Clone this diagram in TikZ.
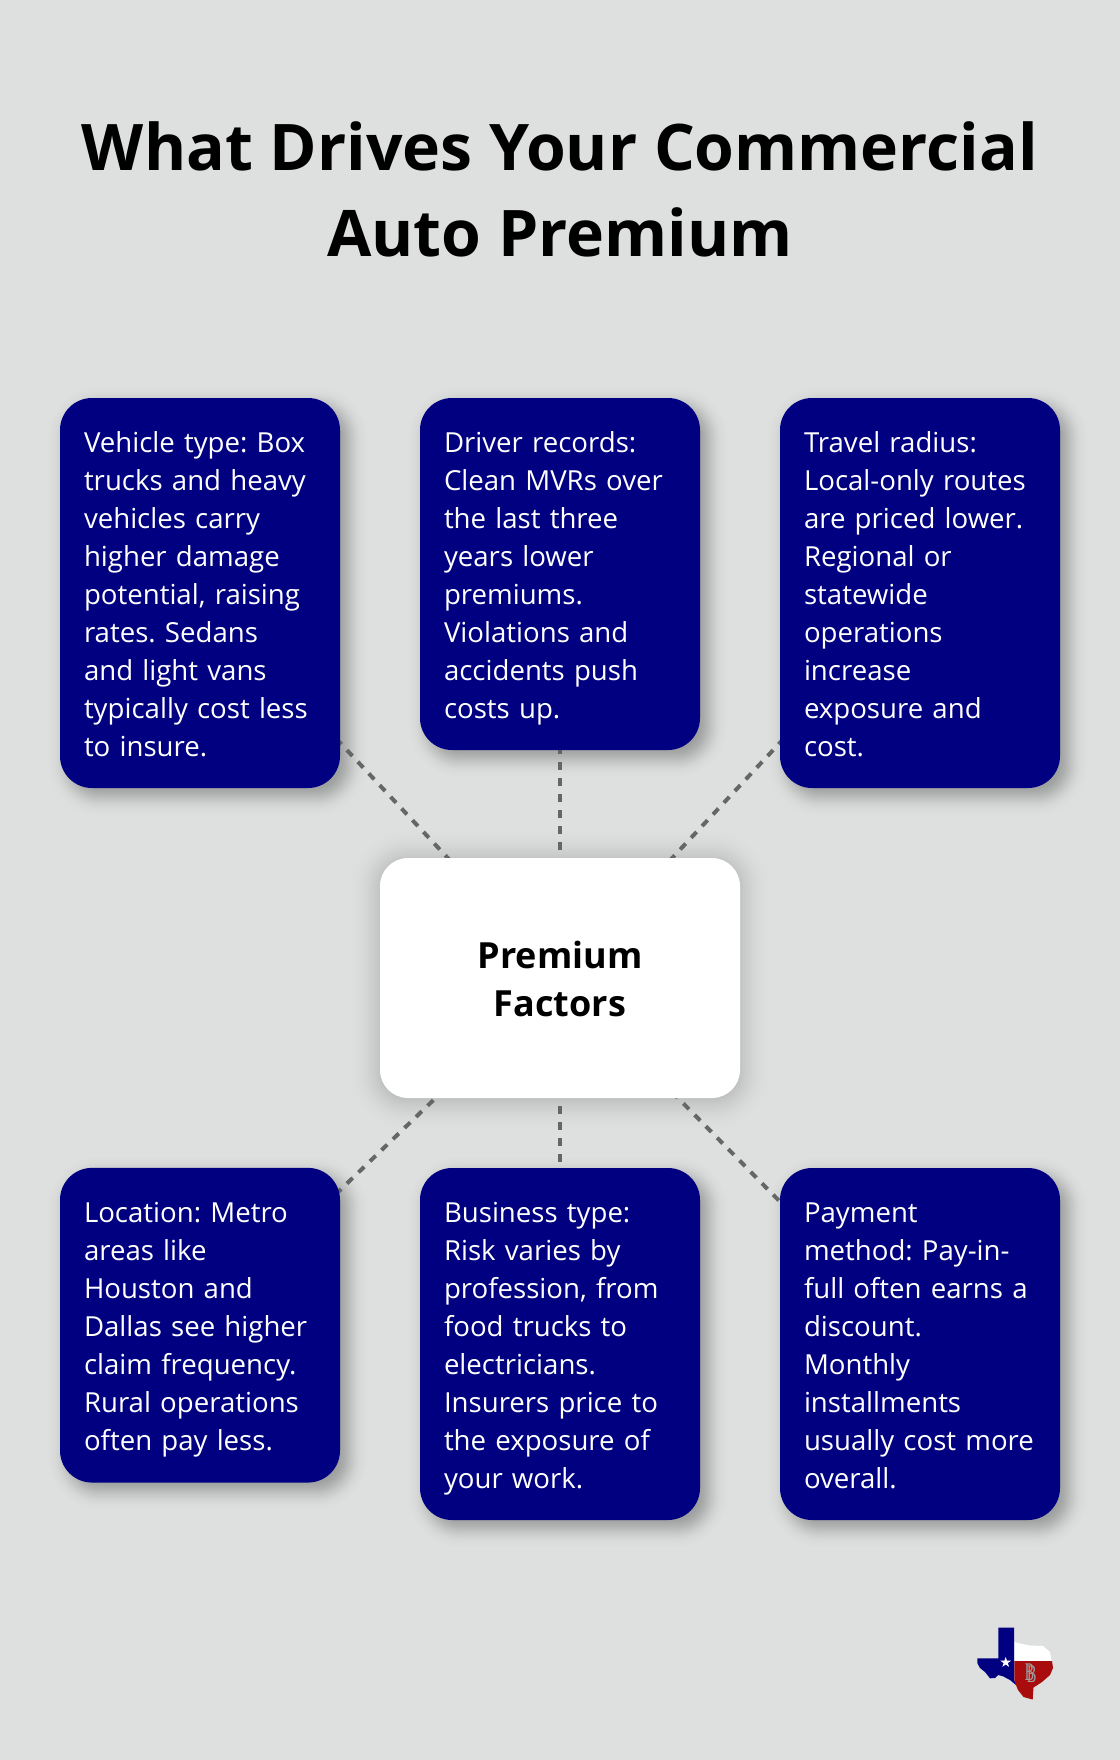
\documentclass[tikz,border=0pt]{standalone}
\usepackage{fontspec}
\setmainfont{Open Sans}
\usetikzlibrary{calc}
\definecolor{pagebg}{HTML}{DEE0E0}
\definecolor{navybox}{HTML}{000080}
\definecolor{dashgray}{HTML}{666666}
\definecolor{flagred}{HTML}{A80C0C}
\pgfdeclarelayer{bg}
\pgfdeclarelayer{shade}
\pgfsetlayers{bg,shade,main}
\frenchspacing
\tikzset{
  factor/.style={fill=navybox,text=white,rounded corners=24pt,inner sep=0pt,
    minimum width=210pt,text width=174pt,align=left,
    font=\fontsize{20.7pt}{28.5pt}\selectfont,
    execute at begin node={\rule{0pt}{22.5pt}},
    execute at end node={\rule[-6pt]{0pt}{6pt}}},
  hub/.style={fill=white,text=black,rounded corners=21pt,inner sep=0pt,
    minimum width=270pt,minimum height=180pt,
    font=\fontsize{27pt}{36pt}\selectfont\bfseries},
  titletext/.style={inner sep=0pt,align=center,text=black,
    font=\fontsize{48.2pt}{64.5pt}\selectfont\bfseries},
  link/.style={draw=dashgray,line width=3pt,dash pattern=on 6pt off 6pt}
}
% soft shadow: node, dx, dy, half range, sigma, radius (pt), peak opacity
\newcommand{\softshade}[7]{%
  \begin{pgfonlayer}{shade}
  \foreach \k in {0,...,30}{
    \pgfmathsetmacro{\grow}{#4*(1-\k/15)}
    \pgfmathsetmacro{\alphaval}{#7*exp(-0.5*(\grow/#5)*(\grow/#5))}
    \pgfmathsetmacro{\rad}{max(1,#6+0.75*\grow)}
    \fill[black,fill opacity=\alphaval,rounded corners=\rad pt]
      ($(#1.north west)+(#2-\grow,#3-\grow)$) rectangle ($(#1.south east)+(#2+\grow,#3+\grow)$);
  }
  \end{pgfonlayer}
}
\begin{document}
\begin{tikzpicture}[x=0.75pt,y=-0.75pt]
\begin{pgfonlayer}{bg}
\fill[pagebg] (0,0) rectangle (1120,1760);
\end{pgfonlayer}
\useasboundingbox (0,0) rectangle (1120,1760);

\node[titletext] (title) at (560,189) {What Drives Your Commercial\\Auto Premium};

\node[hub] (hub) at (560,978) {\raisebox{-9.85pt}[0pt][0pt]{\begin{tabular}[c]{@{}c@{}}Premium\\Factors\end{tabular}}};

\node[factor,minimum height=292.5pt] (vehicle) at (200,593) {Vehicle type: Box\\trucks and heavy\\vehicles carry\\higher damage\\potential, raising\\rates. Sedans\\and light vans\\typically cost less\\to insure.};
\node[factor,minimum height=264pt] (driver) at (560,574) {Driver records:\\Clean MVRs over\\the last three\\years lower\\premiums.\\Violations and\\accidents push\\costs up.};
\node[factor,minimum height=292.5pt] (travel) at (920,593) {Travel radius:\\Local-only routes\\are priced lower.\\Regional or\\statewide\\operations\\increase\\exposure and\\cost.};
\node[factor,minimum height=236pt] (location) at (200,1325.2) {Location: Metro\\areas like\\Houston and\\Dallas see higher\\claim frequency.\\Rural operations\\often pay less.};
\node[factor,minimum height=264pt] (business) at (560,1344) {Business type:\\Risk varies by\\profession, from\\food trucks to\\electricians.\\Insurers price to\\the exposure of\\your work.};
\node[factor,minimum height=264pt] (payment) at (920,1344) {Payment\\method: Pay-in-\\full often earns a\\discount.\\Monthly\\installments\\usually cost more\\overall.};

\foreach \n in {vehicle,driver,travel,location,business,payment}{
  \softshade{\n}{8}{8}{22}{9}{24}{0.022}
}
\softshade{hub}{0}{2}{36}{15}{21}{0.014}

\begin{pgfonlayer}{shade}
\foreach \n in {vehicle,driver,travel,location,business,payment}{
  \draw[link] (hub.center) -- (\n.center);
}
\end{pgfonlayer}

% Texas logo
\fill[white] (1014.3,1642) -- (1020,1643.5) -- (1030,1645.5) -- (1043,1646) -- (1050,1652) -- (1051.7,1661) -- (1014.3,1661) -- cycle;
\fill[flagred] (1014.3,1661) -- (1052,1661) -- (1053,1668) -- (1050,1675) -- (1042,1682) -- (1033.5,1687.5) -- (1032.7,1699.5) -- (1023.5,1697) -- (1018,1690) -- (1014.3,1681) -- cycle;
\fill[navybox] (998.3,1627.7) -- (1014,1627.7) -- (1014,1680) -- (1016,1685) -- (1010,1680) -- (1003,1676.3) -- (998,1675) -- (995,1678) -- (990,1678.3) -- (985,1672) -- (980,1668) -- (977.5,1663.5) -- (977.3,1658.3) -- (998.3,1658.3) -- cycle;
\fill[white] (1005.7,1657) -- (1007,1660.7) -- (1011,1660.7) -- (1007.8,1663) -- (1009,1666.8) -- (1005.7,1664.5) -- (1002.4,1666.8) -- (1003.6,1663) -- (1000.4,1660.7) -- (1004.4,1660.7) -- cycle;
\node[inner sep=0pt,text=gray!75!white,font=\fontspec{Liberation Serif}\fontsize{19pt}{19pt}\selectfont] (logo) at (1030.7,1673) {\scalebox{.55}[1]{B\kern-0.5em\raisebox{-1.5pt}{B}}};
\end{tikzpicture}
\end{document}
